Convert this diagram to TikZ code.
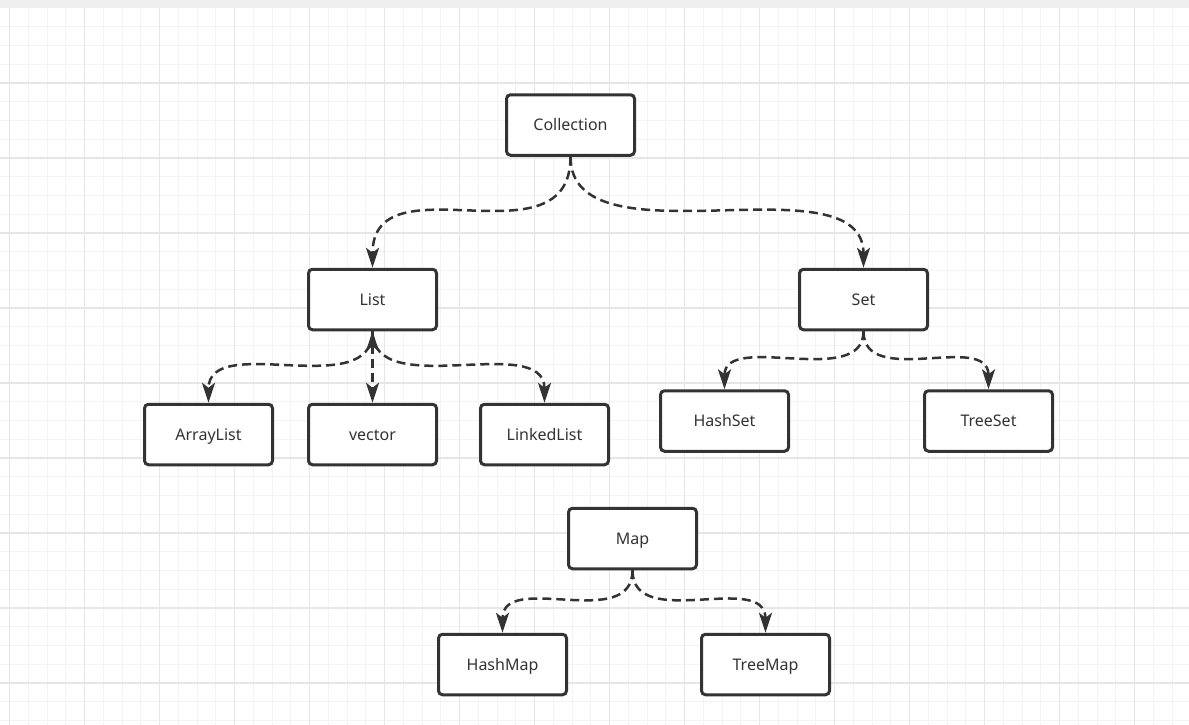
\documentclass[tikz,border=0pt]{standalone}
\usepackage{fontspec}
\setmainfont{Noto Sans}
\usepackage{tikz}
\usetikzlibrary{arrows.meta}
\definecolor{ink}{HTML}{333333}
\definecolor{gridminor}{HTML}{F3F3F3}
\definecolor{gridmajor}{HTML}{E6E6E6}
\definecolor{topband}{HTML}{EFEFEF}
\tikzset{
    box/.style={draw=ink, line width=3pt, rounded corners=4pt, fill=white,
        minimum width=128pt, minimum height=60.5pt, inner sep=0pt,
        text height=14pt, text depth=2.5pt,
        text=ink, font=\fontsize{16}{19}\selectfont},
    link/.style={draw=ink, line width=2.5pt, dash pattern=on 9pt off 5pt,
        -{Stealth[length=20pt,width=13pt,inset=5pt]}},
    twoway/.style={link, {Stealth[length=20pt,width=13pt,inset=5pt]}-{Stealth[length=20pt,width=13pt,inset=5pt]}}
}

\begin{document}
\begin{tikzpicture}[x=1pt,y=-1pt]
            \useasboundingbox (0,0) rectangle (1189,725);
            \fill[white] (0,0) rectangle (1189,725);
            \foreach \k in {0,...,63} {
                    \draw[gridminor, line width=1pt] ({9.5+18.75*\k},8) -- ({9.5+18.75*\k},725);
                }
            \foreach \k in {0,...,38} {
                    \draw[gridminor, line width=1pt] (0,{8+18.75*\k}) -- (1189,{8+18.75*\k});
                }
            \foreach \k in {0,...,15} {
                    \draw[gridmajor, line width=1.2pt] ({9.5+75*\k},8) -- ({9.5+75*\k},725);
                }
            \foreach \k in {1,...,9} {
                    \draw[gridmajor, line width=1.2pt] (0,{8+75*\k}) -- (1189,{8+75*\k});
                }
            \fill[topband] (0,0) rectangle (1189,8);
            \foreach \n/\x/\y/\t in {coll/570.5/125/Collection, list/372.5/299.5/List, set/863.5/299.5/Set,
                    alist/208.5/434.5/ArrayList, vect/372.5/434.5/vector, llist/544.5/434.5/LinkedList,
                    hset/724.5/421/HashSet, tset/988.5/421/TreeSet,
                    map/632.5/538.5/Map, hmap/502.5/664.5/HashMap, tmap/765.5/664.5/TreeMap} {
                    \node[box] (\n) at (\x,\y) {\t};
                }
            \foreach \a/\b in {coll/list, coll/set, list/alist, list/llist, set/hset, set/tset, map/hmap, map/tmap} {
                    \draw[link] (\a.south) .. controls (\a.south |- \b.north) and (\b.north |- \a.south) .. (\b.north);
                }
            \draw[twoway] (list.south) -- (vect.north);
        \end{tikzpicture}
\end{document}
